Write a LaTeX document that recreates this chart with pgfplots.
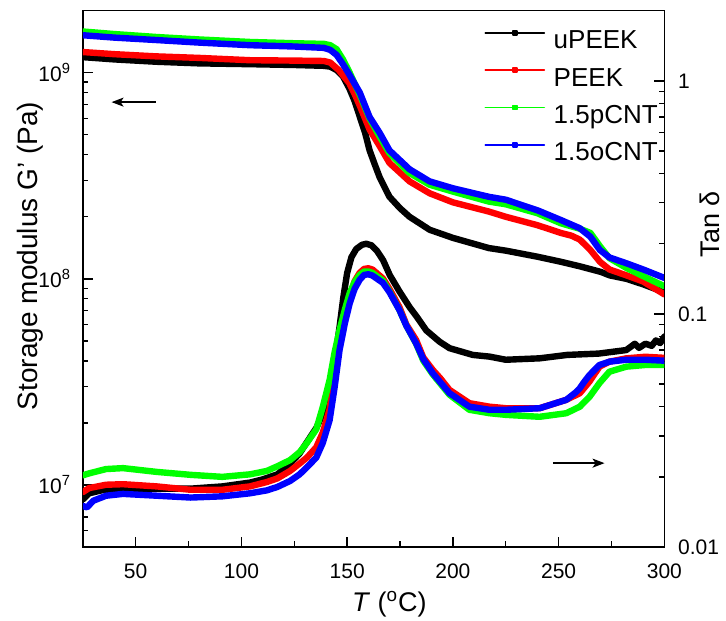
\documentclass[border=0pt]{standalone}
\usepackage{fontspec}
\setmainfont{Liberation Sans}
\usepackage{pgfplots}
\pgfplotsset{compat=1.18}
\usetikzlibrary{arrows.meta}
\definecolor{cgreen}{RGB}{0,255,0}
\definecolor{cblue}{RGB}{0,0,255}
\definecolor{cred}{RGB}{255,0,0}
\pgfplotsset{
  mybase/.style={
    scale only axis, width=290.8pt, height=268.15pt,
    xmin=25, xmax=300,
    axis line style={line width=0.7pt},
    every tick/.style={line width=0.7pt, black},
    major tick length=5pt, minor tick length=2.8pt,
    tick align=inside,
    /pgf/number format/assume math mode=true,
    ticklabel style={font=\fontsize{10.5}{12}\selectfont},
  },
  curve/.style={line width=3.2pt, line join=round, line cap=round},
}
\begin{document}
\begin{tikzpicture}
\begin{axis}[mybase,
  ymode=log, ymin=5e6, ymax=2e9,
  xtick={50,100,150,200,250,300}, minor xtick={75,125,175,225,275},
  xtick pos=bottom, ytick pos=left,
  ytick={1e7,1e8,1e9},
  yticklabels={10\textsuperscript{7},10\textsuperscript{8},10\textsuperscript{9}},
  minor ytick={6e6,7e6,8e6,9e6,2e7,3e7,4e7,5e7,6e7,7e7,8e7,9e7,2e8,3e8,4e8,5e8,6e8,7e8,8e8,9e8,2e9},
  xticklabel style={yshift=-4.65pt},
  yticklabel style={xshift=-2.4pt},
  every axis x label/.style={at={(axis description cs:0.527,-0.1206)}, anchor=base, font=\fontsize{13.5}{16}\selectfont},
  every axis y label/.style={at={(axis description cs:-0.0782,0.5426)}, anchor=base, rotate=90, font=\fontsize{14}{16}\selectfont},
  xlabel={\textit{T} (\textsuperscript{o}C)},
  ylabel={Storage modulus G’ (Pa)},
  legend style={at={(axis description cs:0.6859,0.965)}, anchor=north west, draw=none, fill=none,
    inner sep=0pt, row sep=6.35pt, column sep=4.3pt, font=\fontsize{13}{15}\selectfont,
    nodes={inner sep=0pt, text height=9.5pt, text depth=2.8pt}},
  legend cell align=left,
  legend image code/.code={\path (0pt,0pt); \draw[#1, line width=0.8pt, mark=square*, mark size=1pt, mark repeat=2, mark phase=2] plot coordinates {(0pt,4.6pt) (14.75pt,4.6pt) (29.5pt,4.6pt)};},
]
\addplot[curve, black] coordinates {
(25,1.19e9) (40,1.16e9) (60,1.13e9) (80,1.11e9) (104,1.10e9) (125,1.09e9) (139,1.08e9)
(142,1.07e9) (145,1.03e9) (148,9.6e8) (151,8.4e8) (153.5,7.3e8) (156,6.1e8) (158.5,5.1e8)
(160.6,4.2e8) (163,3.6e8) (165.4,3.1e8) (170,2.5e8) (175,2.2e8) (179.5,2.0e8) (189,1.73e8)
(200,1.58e8) (217,1.41e8) (225,1.37e8) (240,1.28e8) (251,1.21e8) (260,1.15e8) (270,1.08e8)
(274,1.04e8) (282,1.0e8) (290,9.4e7) (300,8.6e7)};
\addlegendentry{uPEEK}
\addplot[curve, cred] coordinates {
(25,1.26e9) (40,1.23e9) (60,1.20e9) (80,1.18e9) (104,1.15e9) (125,1.145e9) (139,1.14e9)
(142,1.12e9) (146,1.03e9) (151,8.9e8) (153.5,7.9e8) (156,6.9e8) (160.6,5.3e8) (165.4,4.4e8)
(170,3.65e8) (179.5,2.97e8) (189,2.6e8) (200,2.35e8) (217,2.12e8) (225,2.0e8) (240,1.82e8)
(251,1.67e8) (256,1.62e8) (260,1.55e8) (265,1.38e8) (269.5,1.21e8) (274,1.11e8) (282,1.04e8)
(290,9.7e7) (300,8.4e7)};
\addlegendentry{PEEK}
\addplot[curve, cgreen] coordinates {
(25,1.585e9) (40,1.54e9) (60,1.49e9) (80,1.45e9) (104,1.41e9) (125,1.39e9) (139,1.38e9)
(142,1.36e9) (145,1.30e9) (148,1.16e9) (151,1.01e9) (156,7.8e8) (160.6,6.0e8) (165.4,4.9e8)
(170,4.07e8) (179.5,3.26e8) (189,2.86e8) (200,2.65e8) (217,2.37e8) (225,2.30e8) (240,2.08e8)
(251,1.86e8) (260,1.75e8) (265,1.67e8) (269.5,1.44e8) (274,1.26e8) (282,1.13e8) (290,1.03e8)
(300,9.2e7)};
\addlegendentry{1.5pCNT}
\addplot[curve, cblue] coordinates {
(25,1.52e9) (40,1.48e9) (60,1.44e9) (80,1.40e9) (104,1.36e9) (125,1.34e9) (139,1.32e9)
(142,1.29e9) (145,1.22e9) (148,1.10e9) (151,9.8e8) (156,8.0e8) (160.6,6.1e8) (165.4,5.1e8)
(170,4.2e8) (179.5,3.4e8) (189,2.97e8) (200,2.75e8) (217,2.5e8) (225,2.42e8) (240,2.15e8)
(251,1.93e8) (260,1.76e8) (265,1.60e8) (269.5,1.38e8) (274,1.27e8) (282,1.19e8) (290,1.11e8)
(300,1.01e8)};
\addlegendentry{1.5oCNT}
\draw[-{Stealth[length=6pt,width=4.5pt,inset=1.5pt]}, line width=0.85pt] (axis cs:59.5,7.2e8) -- (axis cs:38.6,7.2e8);
\end{axis}
\begin{axis}[mybase,
  ymode=log, ymin=0.01, ymax=2,
  axis y line*=right, axis x line=none,
  ytick={0.01,0.1,1}, yticklabels={0.01,0.1,1},
  minor ytick={0.02,0.03,0.04,0.05,0.06,0.07,0.08,0.09,0.2,0.3,0.4,0.5,0.6,0.7,0.8,0.9,2},
  yticklabel style={xshift=3.3pt},
  every axis y label/.style={at={(axis description cs:1.094,0.602)}, anchor=base, rotate=90, font=\fontsize{13.5}{16}\selectfont},
  ylabel={Tan δ},
]
\addplot[curve, black] coordinates {
(25,0.0160) (28,0.0170) (35,0.0176) (45,0.0178) (60,0.0178) (76,0.0178) (91,0.0182)
(104,0.0189) (110,0.0195) (117,0.0205) (123,0.0228) (127.5,0.0252) (131,0.0282) (135.5,0.0325)
(138,0.0365) (140.5,0.0420) (143.3,0.0560) (146.4,0.088) (148.2,0.118) (150,0.150) (152,0.175)
(154.3,0.190) (157,0.198) (159,0.200) (161.5,0.197) (164,0.187) (167,0.170) (170.1,0.147)
(174.7,0.125) (179.5,0.107) (183,0.097) (187.4,0.085) (193.7,0.076) (198.4,0.0713) (209.4,0.0667)
(217.3,0.0656) (225,0.0636) (241,0.0645) (254,0.0667) (269,0.0676) (282,0.0700) (286,0.0745)
(288,0.0715) (291,0.0745) (294,0.0730) (296,0.0770) (298,0.0750) (300,0.0800)};
\addplot[curve, cred] coordinates {
(25,0.0172) (28,0.0179) (36,0.0185) (44,0.0186) (60,0.0182) (76,0.0176) (91,0.0176)
(104,0.0182) (112,0.0190) (117,0.0197) (123,0.0212) (127.5,0.0228) (131,0.0242) (135.4,0.0268)
(138.5,0.0310) (141.7,0.0390) (144,0.0550) (146.4,0.0773) (149,0.100) (151.2,0.119)
(153.5,0.138) (155.9,0.150) (158,0.156) (160,0.157) (162,0.155) (166.9,0.142) (170,0.128)
(174.7,0.107) (178,0.090) (182.6,0.0773) (186,0.065) (190.5,0.0575) (194,0.053) (198.4,0.0472)
(207.8,0.0414) (217.3,0.0400) (225,0.0394) (241,0.0394) (253.6,0.0428) (260,0.0457)
(264.6,0.0513) (269.3,0.0594) (274,0.0624) (282,0.0645) (291,0.0655) (300,0.0648)};
\addplot[curve, cgreen] coordinates {
(25,0.0203) (28,0.0207) (36,0.0216) (44,0.0218) (60,0.0210) (76,0.0204) (91,0.0200)
(104,0.0205) (112,0.0212) (117,0.0222) (123,0.0236) (127.5,0.0255) (131,0.0280) (135.4,0.0320)
(138.5,0.0400) (141.7,0.0521) (144,0.068) (146.4,0.0853) (149,0.105) (151.2,0.123)
(153.5,0.137) (155.9,0.147) (158,0.152) (160,0.152) (162,0.150) (166.9,0.139) (170,0.125)
(174.7,0.104) (178,0.089) (182.6,0.0745) (186,0.063) (190.5,0.055) (198.4,0.045) (207.8,0.0388)
(217.3,0.0375) (225,0.0369) (241,0.0362) (253.6,0.0375) (260,0.0400) (264.6,0.0441)
(269.3,0.0505) (274,0.0565) (282,0.0594) (291,0.0604) (300,0.0604)};
\addplot[curve, cblue] coordinates {
(25,0.0150) (27,0.0148) (30,0.0158) (36,0.0166) (44,0.0169) (60,0.0166) (76,0.0163)
(91,0.0165) (104,0.0170) (112,0.0175) (117,0.0181) (123,0.0192) (127.5,0.0205) (131,0.0220)
(135.4,0.0242) (138.5,0.0280) (141.7,0.0350) (144,0.048) (146.4,0.0700) (149,0.092)
(151.2,0.111) (153.5,0.128) (155.9,0.140) (158,0.147) (160,0.148) (162,0.146) (166.9,0.136)
(170,0.124) (174.7,0.104) (178,0.089) (182.6,0.0748) (186,0.064) (190.5,0.0556) (198.4,0.0457)
(207.8,0.0400) (217.3,0.0388) (225,0.0388) (241,0.0394) (253.6,0.0428) (258,0.0460)
(260,0.0480) (262,0.0510) (264.6,0.0547) (269.3,0.0604) (274,0.0624) (282,0.0636)
(291,0.0636) (300,0.0630)};
\draw[-{Stealth[length=6pt,width=4.5pt,inset=1.5pt]}, line width=0.85pt] (axis cs:247.3,0.0229) -- (axis cs:271.7,0.0229);
\end{axis}
\pgfresetboundingbox
\path[use as bounding box] (-41.4pt,-36.5pt) rectangle ++(363pt,310pt);
\end{tikzpicture}
\end{document}
